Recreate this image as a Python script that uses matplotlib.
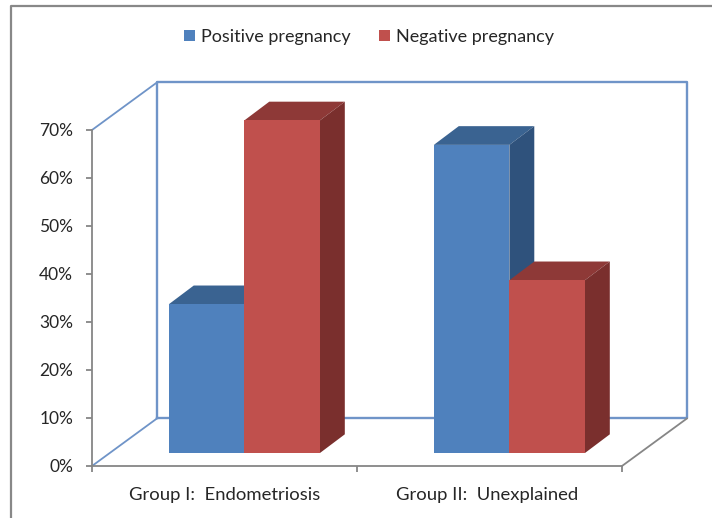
import matplotlib
matplotlib.use('Agg')
import matplotlib.pyplot as plt
from matplotlib.lines import Line2D

plt.rcParams['font.family'] = ['Lato', 'DejaVu Sans']

categories = ['Group I:  Endometriosis', 'Group II:  Unexplained']
positive = [33.7, 66.9]
negative = [72.0, 38.7]
yticks = [0, 10, 20, 30, 40, 50, 60, 70]

BLUE = ('#4F81BD', '#3A6391', '#2F527C')   # front, top, side
RED = ('#C0504D', '#8E3937', '#7A2F2D')
WALL = '#6F94C8'
GREY = '#868686'
TEXT = '#262626'

# 3d look, all in axis units (1 category wide, % high)
WALL_DX, WALL_DY = 0.245, 9.9
BAR_DX, BAR_DY = 0.094, 3.9
BAR_W = 0.285
BAR_SHIFT = 0.075
BAR_BASE = 2.7

W, H = 712, 518
fig = plt.figure(figsize=(W / 100, H / 100), dpi=100)
ax = fig.add_axes([92 / W, 1 - 466 / H, 530 / W, 336 / H])
ax.set_xlim(0, 2)
ax.set_ylim(0, 70)
ax.patch.set_alpha(0)

# back wall and the lines going to it
ax.plot([WALL_DX, WALL_DX, 2 + WALL_DX, 2 + WALL_DX, WALL_DX],
        [WALL_DY, 70 + WALL_DY, 70 + WALL_DY, WALL_DY, WALL_DY],
        color=WALL, lw=1.7, clip_on=False, zorder=1)
ax.plot([0, WALL_DX], [0, WALL_DY], color=WALL, lw=1.3, clip_on=False, zorder=1)
ax.plot([0, WALL_DX], [70, 70 + WALL_DY], color=WALL, lw=1.3, clip_on=False, zorder=1)
ax.plot([2, 2 + WALL_DX], [0, WALL_DY], color=GREY, lw=1.3, clip_on=False, zorder=1)


def draw_bar(left, top, colors, label=None):
    right = left + BAR_W
    ax.fill([left, left + BAR_DX, right + BAR_DX, right],
            [top, top + BAR_DY, top + BAR_DY, top],
            color=colors[1], lw=0, clip_on=False, zorder=2)
    ax.fill([right, right + BAR_DX, right + BAR_DX, right],
            [BAR_BASE, BAR_BASE + BAR_DY, top + BAR_DY, top],
            color=colors[2], lw=0, clip_on=False, zorder=2)
    return ax.bar(left, top - BAR_BASE, BAR_W, bottom=BAR_BASE, align='edge',
                  color=colors[0], lw=0, label=label, clip_on=False, zorder=2)


for i in range(len(categories)):
    mid = i + 0.5 + BAR_SHIFT
    draw_bar(mid - BAR_W, positive[i], BLUE, 'Positive pregnancy' if i == 0 else None)
    draw_bar(mid, negative[i], RED, 'Negative pregnancy' if i == 0 else None)

for s in ['top', 'right']:
    ax.spines[s].set_visible(False)
for s in ['left', 'bottom']:
    ax.spines[s].set_color(GREY)
    ax.spines[s].set_linewidth(1.3)
    ax.spines[s].set_zorder(1.5)

ax.set_yticks(yticks)
ax.set_yticklabels([f'{v}%' for v in yticks])
ax.set_xticks([0, 1, 2])
ax.set_xticklabels([])
ax.set_xticks([0.5, 1.49], minor=True)
ax.set_xticklabels(categories, minor=True)
ax.tick_params(axis='both', which='major', color=GREY, width=1.3, length=4.5,
               labelsize=12.5, labelcolor=TEXT, pad=3)
ax.tick_params(axis='y', which='major', pad=9)
ax.tick_params(axis='x', which='minor', length=0, labelsize=13.3, labelcolor=TEXT, pad=15)

fig.legend(loc='center', bbox_to_anchor=(369 / W, 1 - 37 / H), ncol=2, frameon=False,
           fontsize=13, labelcolor=TEXT, handlelength=0.6, handleheight=0.6,
           handletextpad=0.3, columnspacing=1.6)

# outer frame, only top and left are in the picture
fig.add_artist(Line2D([11 / W, 11 / W, 1], [0, 1 - 6 / H, 1 - 6 / H], color='#888888', lw=1.6))

fig.savefig('out.png', dpi=100)
